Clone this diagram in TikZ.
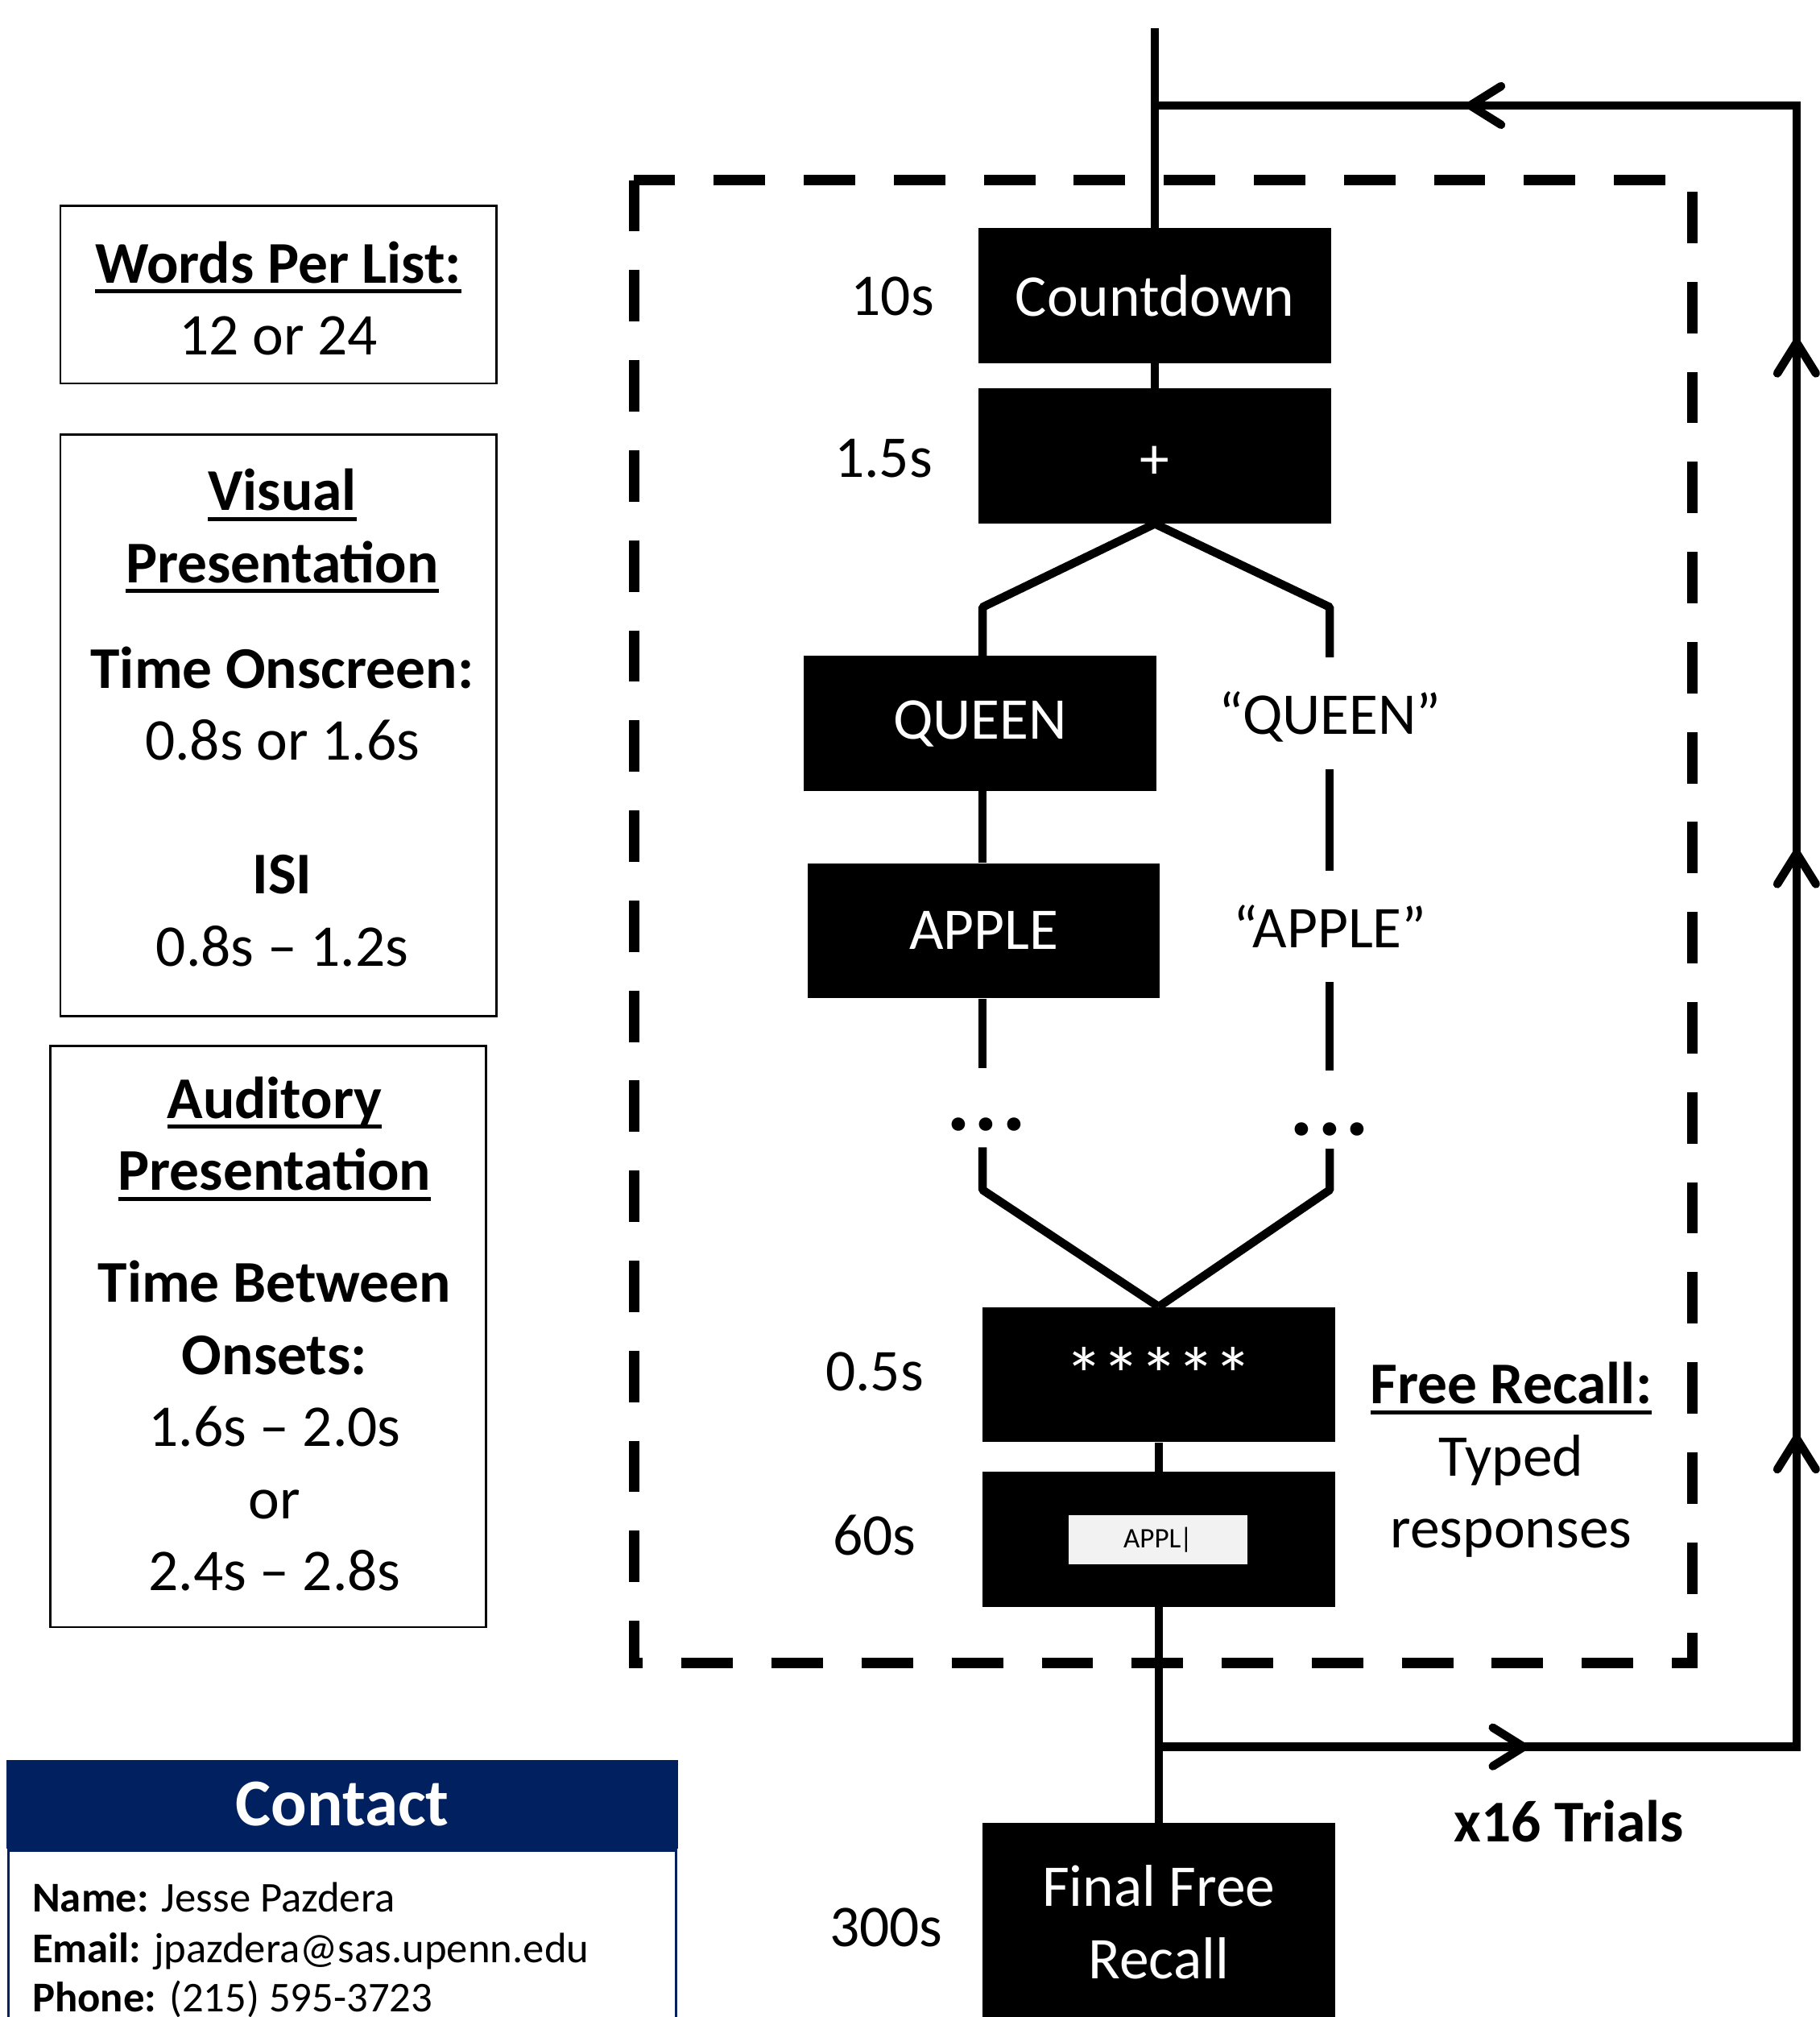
\documentclass[tikz,border=0pt]{standalone}
\usepackage{fontspec}
\setmainfont{Carlito}
\usetikzlibrary{arrows.meta, positioning, calc, decorations.markings}
\definecolor{navy}{HTML}{002060}
\definecolor{inputgray}{HTML}{F2F2F2}

\newsavebox{\ulbox}
\newcommand{\ulhead}[1]{\sbox{\ulbox}{\textbf{#1}}\rlap{\rule[-8pt]{\wd\ulbox}{3pt}}\usebox{\ulbox}}

\tikzset{
    stim/.style={rectangle, fill=black, text=white, minimum width=274pt, minimum height=105pt, inner sep=0pt, align=center},
    infobox/.style={rectangle, draw, line width=1.6pt, minimum width=339pt, inner sep=0pt},
    infotext/.style={align=center, inner sep=0pt},
    timing/.style={text height=30pt, text depth=0pt, inner sep=0pt},
    flow/.style={line width=6.5pt},
    chevron/.tip={Straight Barb[length=24pt, width=30pt, round]},
    dots/.style={inner sep=0pt, font=\fontsize{70}{70}\selectfont\bfseries},
    contactline/.style={anchor=base west, inner sep=0pt, font=\fontsize{33}{40}\selectfont}
}

\begin{document}
\begin{tikzpicture}[x=1pt, y=-1pt, font=\fontsize{46}{56}\selectfont]
    \clip (0,0) rectangle (1415,1568);

    % settings panels
    \node[infobox, minimum height=138pt] (words) at (216.5,229) {};
    \node[infotext] (wordstxt) at (216.5,232) {\ulhead{Words Per List:}\\ 12 or 24};
    \node[infobox, minimum height=452pt] (visual) at (216.5,564) {};
    \node[infotext] (visualtxt) at (219.5,558)
        {\ulhead{Visual}\\ \ulhead{Presentation}\\[26pt] \textbf{Time Onscreen:}\\ 0.8s or 1.6s\\[48pt] \textbf{ISI}\\ 0.8s -- 1.2s};
    \node[infobox, minimum height=452pt] (auditory) at (208.5,1039) {};
    \node[infotext] (auditorytxt) at (213.5,1037)
        {\ulhead{Auditory}\\ \ulhead{Presentation}\\[31pt] \textbf{Time Between}\\ \textbf{Onsets:}\\ 1.6s -- 2.0s\\ or\\ 2.4s -- 2.8s};

    % contact card
    \node[fill=navy, text=white, minimum width=522pt, minimum height=69pt, inner sep=0pt, anchor=north west,
          font=\fontsize{52}{60}\selectfont\bfseries] (contact) at (5,1368) {Contact};
    \node[draw=navy, line width=2pt, minimum width=519pt, minimum height=170pt, anchor=north] (card) at (contact.south) {};
    \node[contactline] (name) at (25,1486) {\textbf{Name:} Jesse Pazdera};
    \node[contactline] (email) at (25,1526) {\textbf{Email:} jpazdera@sas.upenn.edu};
    \node[contactline] (phone) at (25,1564) {\textbf{Phone:} (215) 595-3723};

    % trial block
    \draw[line width=8pt, dash pattern=on 40pt off 30pt] (493,140) rectangle (1316,1293);

    \node[stim] (count) at (898,230) {Countdown};
    \node[stim] (fix) at (898,354.5) {\raisebox{-5pt}[\height][\depth]{+}};
    \node[stim] (queen) at (762,562.5) {QUEEN};
    \node[stim] (apple) at (765,723.5) {APPLE};
    \node[stim, font=\fontsize{60}{60}\selectfont] (mask) at (901,1068.5) {*\kern-1pt*\kern-1pt*\kern-1pt*\kern-1pt*};
    \node[stim] (recall) at (901,1196.5) {};
    \node[fill=inputgray, minimum width=139pt, minimum height=38pt, inner sep=0pt,
          font=\fontsize{22}{22}\selectfont] (typed) at (900.5,1197) {APPL\kern-1pt|};
    \node[stim, minimum height=154pt, anchor=north] (final) at (901,1417) {Final Free\\ Recall};

    \node[timing] (t10) at (694,230) {10s};
    \node[timing] (t15) at (687,356) {1.5s};
    \node[timing] (t05) at (680,1066) {0.5s};
    \node[timing] (t60) at (680,1194) {60s};
    \node[timing] (t300) at (689,1498) {300s};

    \node[timing] (qword) at (1034,556) {“QUEEN”};
    \node[timing] (aword) at (1034,722) {“APPLE”};
    \node[dots] (ldots) at (767,874) {.\kern3pt.\kern3pt.};
    \node[dots] (rdots) at (1034,878) {.\kern3pt.\kern3pt.};

    \node[align=center, inner sep=0pt] (frnote) at (1175,1135) {\ulhead{Free Recall:}\\ Typed\\ responses};
    \node[timing] (trials) at (1220,1417) {\textbf{x16 Trials}};

    % connectors
    \coordinate (entry) at (898,22);
    \coordinate (lsplit) at (764,472);
    \coordinate (rsplit) at (1034,472);
    \coordinate (lresume) at (764,892);
    \coordinate (rresume) at (1034,893);
    \coordinate (lmerge) at (764,925);
    \coordinate (rmerge) at (1034,925);

    \draw[flow] (entry) -- (count.north);
    \draw[flow] (count.south) -- (fix.north);
    \draw[flow, line join=bevel] (fix.south) -- (lsplit) -- (lsplit |- queen.north);
    \draw[flow, line join=bevel] (fix.south) -- (rsplit) -- ++(0,39);
    \draw[flow] (lsplit |- queen.south) -- (lsplit |- apple.north);
    \draw[flow] (lsplit |- apple.south) -- ++(0,54);
    \draw[flow] ([yshift=-27pt]qword.south) -- ([yshift=30pt]aword.north);
    \draw[flow] ([yshift=-26pt]aword.south) -- ++(0,69);
    \draw[flow, line join=bevel] (lresume) -- (lmerge) -- (mask.north);
    \draw[flow, line join=bevel] (rresume) -- (rmerge) -- (mask.north);
    \draw[flow] (mask.south) -- (recall.north);
    \draw[flow] (recall.south) -- (final.north);

    % repeat loop
    \coordinate (split) at (901,1358);
    \coordinate (loopbr) at (1397,1358);
    \coordinate (looptr) at (1397,82);
    \coordinate (join) at (898,82);
    \draw[flow, postaction={decorate}, decoration={markings,
            mark=at position 287pt with {\arrow{chevron}},
            mark=at position 739pt with {\arrow{chevron}},
            mark=at position 1194pt with {\arrow{chevron}},
            mark=at position 1591pt with {\arrow{chevron}},
            mark=at position 2029pt with {\arrow{chevron}}}]
        (split) -- (loopbr) -- (looptr) -- (join);
\end{tikzpicture}
\end{document}
